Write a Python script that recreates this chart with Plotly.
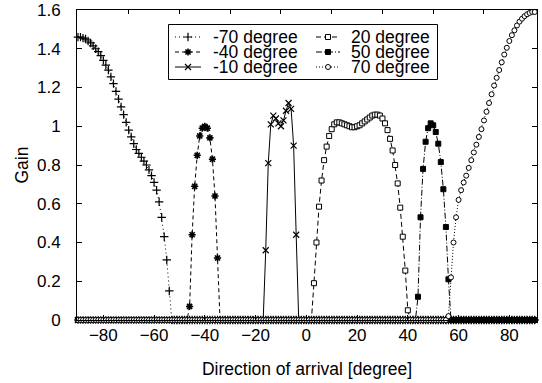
import plotly.graph_objects as go

# ---------------- data ----------------
angles = list(range(-90, 91))          # direction of arrival, 1 degree steps
series_names = ["-70 degree", "-40 degree", "-10 degree", "20 degree", "50 degree", "70 degree"]

# non-zero part of each gain curve: first angle + values (gain is 0 elsewhere)
m70_start = -90
m70_vals = [1.46, 1.46, 1.455, 1.45, 1.44, 1.43, 1.415, 1.40, 1.385, 1.365,
            1.34, 1.315, 1.29, 1.255, 1.22, 1.18, 1.14, 1.10, 1.06, 1.02,
            0.98, 0.945, 0.91, 0.88, 0.86, 0.84, 0.82, 0.80, 0.775, 0.745,
            0.71, 0.67, 0.61, 0.53, 0.43, 0.31, 0.15, 0.0]

m40_start = -47
m40_vals = [0.0, 0.07, 0.44, 0.69, 0.85, 0.95, 0.99, 1.0, 0.99, 0.94, 0.83, 0.64, 0.32, 0.0]

m10_start = -17
m10_vals = [0.0, 0.36, 0.81, 1.01, 1.055, 1.04, 1.015, 1.0, 1.03, 1.08, 1.12, 1.09, 0.90, 0.44, 0.0]

p20_start = 2
p20_vals = [0.0, 0.19, 0.40, 0.585, 0.72, 0.825, 0.895, 0.95, 0.985, 1.01,
            1.02, 1.02, 1.015, 1.01, 1.005, 1.0, 0.995, 0.995, 1.0, 1.005,
            1.015, 1.025, 1.035, 1.045, 1.055, 1.06, 1.06, 1.055, 1.04, 1.015,
            0.98, 0.935, 0.875, 0.80, 0.705, 0.58, 0.43, 0.255, 0.05, 0.0]

p50_start = 43
p50_vals = [0.0, 0.12, 0.53, 0.78, 0.92, 0.99, 1.015, 1.005, 0.97, 0.91, 0.815, 0.675, 0.48, 0.21, 0.0]

p70_start = 55
p70_vals = [0.0, 0.02, 0.22, 0.40, 0.53, 0.62, 0.67, 0.71, 0.745, 0.785,
            0.825, 0.865, 0.905, 0.945, 0.985, 1.03, 1.075, 1.12, 1.165, 1.21,
            1.25, 1.29, 1.33, 1.37, 1.405, 1.44, 1.47, 1.495, 1.52, 1.54,
            1.555, 1.568, 1.578, 1.585, 1.59, 1.59]

x_ticks = [-80, -60, -40, -20, 0, 20, 40, 60, 80]
x_top_ticks = [-70, -50, -30, -10, 10, 30, 50, 70]
y_ticks = [0, 0.2, 0.4, 0.6, 0.8, 1.0, 1.2, 1.4, 1.6]


def full_curve(start, vals):
    g = [0.0] * len(angles)
    i0 = angles.index(start)
    g[i0:i0 + len(vals)] = vals
    return g


curves = [full_curve(m70_start, m70_vals), full_curve(m40_start, m40_vals),
          full_curve(m10_start, m10_vals), full_curve(p20_start, p20_vals),
          full_curve(p50_start, p50_vals), full_curve(p70_start, p70_vals)]

# ---------------- styles ----------------
FONT = "Liberation Sans, Arial, Helvetica, sans-serif"
styles = [
    dict(dash="1px,3px", symbol="cross-thin-open", size=6, fill="black", lw=1.2),
    dict(dash="4px,3px", symbol="asterisk-open", size=6, fill="black", lw=1.6),
    dict(dash="solid", symbol="x-thin-open", size=6, fill="black", lw=1.2),
    dict(dash="5px,3px", symbol="square", size=5, fill="white", lw=1),
    dict(dash="6px,2px,1px,2px", symbol="square", size=5, fill="black", lw=1),
    dict(dash="1px,2px", symbol="circle", size=5, fill="white", lw=1),
]

fig = go.Figure()
for name, g, st in zip(series_names, curves, styles):
    fig.add_trace(go.Scatter(
        x=angles, y=g, name=name, mode="lines+markers", showlegend=False,
        cliponaxis=False,
        line=dict(color="black", width=1, dash=st["dash"]),
        marker=dict(symbol=st["symbol"], size=st["size"], color=st["fill"],
                    line=dict(color="black", width=st["lw"])),
    ))

# ---------------- hand-made legend (2 columns x 3 rows) ----------------
# legend layout in pixel coordinates of an overlay axis pair
leg_rows = [37, 52, 67]
leg_cols = [(175, 201, 211), (316, 340, 349)]   # sample start, sample end, text x
for k, (name, st) in enumerate(zip(series_names, styles)):
    col = leg_cols[k // 3]
    ry = leg_rows[k % 3]
    fig.add_trace(go.Scatter(
        x=[col[0], (col[0] + col[1]) / 2, col[1]], y=[ry, ry, ry],
        xaxis="x2", yaxis="y2", mode="lines", showlegend=False, hoverinfo="skip",
        line=dict(color="black", width=1, dash=st["dash"]),
    ))
    fig.add_trace(go.Scatter(
        x=[(col[0] + col[1]) / 2], y=[ry], xaxis="x2", yaxis="y2", mode="markers",
        showlegend=False, hoverinfo="skip",
        marker=dict(symbol=st["symbol"], size=st["size"], color=st["fill"],
                    line=dict(color="black", width=st["lw"])),
    ))
    fig.add_annotation(x=col[2], y=ry, xref="x2", yref="y2", text=name,
                       showarrow=False, xanchor="left", yanchor="middle",
                       font=dict(family=FONT, size=17.5, color="black"))

fig.add_shape(type="rect", xref="x2", yref="y2", x0=168.5, x1=437.5, y0=24.5, y1=79.5,
              line=dict(color="black", width=1), fillcolor="rgba(0,0,0,0)", layer="above")

fig.update_layout(
    width=542, height=383,
    margin=dict(l=77, r=5, t=10, b=63, autoexpand=False),
    paper_bgcolor="white", plot_bgcolor="white",
    font=dict(family=FONT, size=17, color="black"),
    showlegend=False,
    xaxis=dict(range=[-90.37, 90.9], tickvals=x_ticks, ticks="inside", ticklen=5,
               tickcolor="black", showline=True, linecolor="black", linewidth=1,
               mirror=True, showgrid=False, zeroline=False, ticklabelstandoff=0,
               automargin=False,
               title=dict(text="Direction of arrival [degree]", standoff=18,
                          font=dict(size=17.5))),
    yaxis=dict(range=[0, 1.6], tickvals=y_ticks, ticks="inside", ticklen=5,
               tickcolor="black", showline=True, linecolor="black", linewidth=1,
               mirror="ticks", showgrid=False, zeroline=False, ticklabelstandoff=12,
               automargin=False,
               title=dict(text="Gain", standoff=3, font=dict(size=17.5))),
    xaxis3=dict(overlaying="x", side="top", anchor="y", range=[-90.37, 90.9],
                tickvals=x_top_ticks, ticks="inside", ticklen=4, tickcolor="black",
                showticklabels=False, showline=False, showgrid=False, zeroline=False,
                automargin=False),
    xaxis2=dict(overlaying="x", range=[77, 537], visible=False, fixedrange=True,
                automargin=False),
    yaxis2=dict(overlaying="y", range=[320, 10], visible=False, fixedrange=True,
                automargin=False),
)
# tie the top tick axis to a dummy trace so it is drawn
fig.add_trace(go.Scatter(x=[None], y=[None], xaxis="x3", yaxis="y", showlegend=False))

fig.write_html("out.html", config={"displayModeBar": False},
               post_script="document.body.style.margin='0px';")
